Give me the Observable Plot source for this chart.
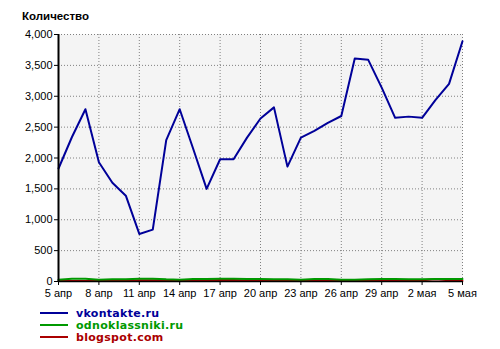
<!DOCTYPE html>
<html><head><meta charset="utf-8">
<script src="https://cdn.jsdelivr.net/npm/d3@7"></script>
<script src="https://cdn.jsdelivr.net/npm/@observablehq/plot@0.6"></script>
<style>
body{margin:0;background:#fff;font-family:"Liberation Sans",Arial,sans-serif;}
#title{height:28px;line-height:33px;padding-left:22px;font-weight:bold;font-size:11.5px;color:#000;}
#legend{padding-left:40px;padding-top:4px;}
.row{height:12px;display:flex;align-items:center;font-family:"DejaVu Sans",Verdana,sans-serif;font-weight:bold;font-size:11px;letter-spacing:0.3px;}
.sw{width:28px;height:2px;margin-right:8px;}
</style></head><body>
<div id="title">Количество</div>
<div id="chart"></div>
<div id="legend"></div>
<script>
const days = d3.range(0, 31);
const tickPos = [0,3,6,9,12,15,18,21,24,27,30];
const tickLabels = ["5 апр","8 апр","11 апр","14 апр","17 апр","20 апр","23 апр","26 апр","29 апр","2 мая","5 мая"];
const vkontakte = [1830,2340,2790,1930,1600,1390,770,840,2290,2790,2150,1500,1980,1980,2330,2640,2820,1860,2330,2440,2570,2680,3610,3590,3140,2650,2670,2650,2940,3200,3890];
const odnoklassniki = [30,45,45,30,35,35,45,45,35,30,40,40,45,45,40,40,35,35,30,40,40,30,30,35,40,40,35,35,40,40,40];
const blogspot = [10,10,10,15,15,10,20,20,20,15,20,20,25,25,15,20,20,15,10,15,10,10,15,15,10,10,10,20,35,20,10];
const series = [
  {name:"vkontakte.ru", values:vkontakte, color:"#000099", text:"#000099"},
  {name:"odnoklassniki.ru", values:odnoklassniki, color:"#009900", text:"#009900"},
  {name:"blogspot.com", values:blogspot, color:"#aa0000", text:"#aa0000"}
];
const rows = s => days.map((d,i)=>({x:d, y:s.values[i]}));
const yTicks = d3.range(0, 4001, 500);

const chart = Plot.plot({
  width: 500, height: 275,
  marginLeft: 58, marginRight: 38, marginTop: 6, marginBottom: 22,
  style: {fontFamily: '"Liberation Sans", Arial, sans-serif', fontSize: "11px", color: "#000", background: "#fff"},
  x: {domain: [0, 30], axis: null, label: null},
  y: {domain: [0, 4000], axis: null, label: null},
  marks: [
    Plot.frame({fill: "#f4f4f4", stroke: null}),
    Plot.gridX(tickPos, {stroke: "#808080", strokeOpacity: 1, strokeDasharray: "1,2"}),
    Plot.gridY(yTicks, {stroke: "#808080", strokeOpacity: 1, strokeDasharray: "1,2"}),
    Plot.line(rows(series[2]), {x:"x", y:"y", stroke: series[2].color, strokeWidth: 2}),
    Plot.line(rows(series[1]), {x:"x", y:"y", stroke: series[1].color, strokeWidth: 2}),
    Plot.line(rows(series[0]), {x:"x", y:"y", stroke: series[0].color, strokeWidth: 2}),
    Plot.ruleX([0], {stroke: "#000", strokeWidth: 2}),
    Plot.ruleY([0], {stroke: "#000", strokeWidth: 1.5}),
    Plot.axisY(yTicks, {label: null, tickFormat: d3.format(","), tickSize: 4, tickPadding: 2, stroke: "#000", fontSize: 11}),
    Plot.axisX(tickPos, {label: null, tickFormat: d => tickLabels[tickPos.indexOf(d)], tickSize: 4, tickPadding: 4, stroke: "#000", fontSize: 11})
  ]
});
document.getElementById("chart").appendChild(chart);
const lg = document.getElementById("legend");
for (const s of series) {
  const r = document.createElement("div"); r.className = "row";
  const sw = document.createElement("div"); sw.className = "sw"; sw.style.background = s.color;
  const t = document.createElement("span"); t.textContent = s.name; t.style.color = s.text;
  r.appendChild(sw); r.appendChild(t); lg.appendChild(r);
}
</script>
</body></html>
